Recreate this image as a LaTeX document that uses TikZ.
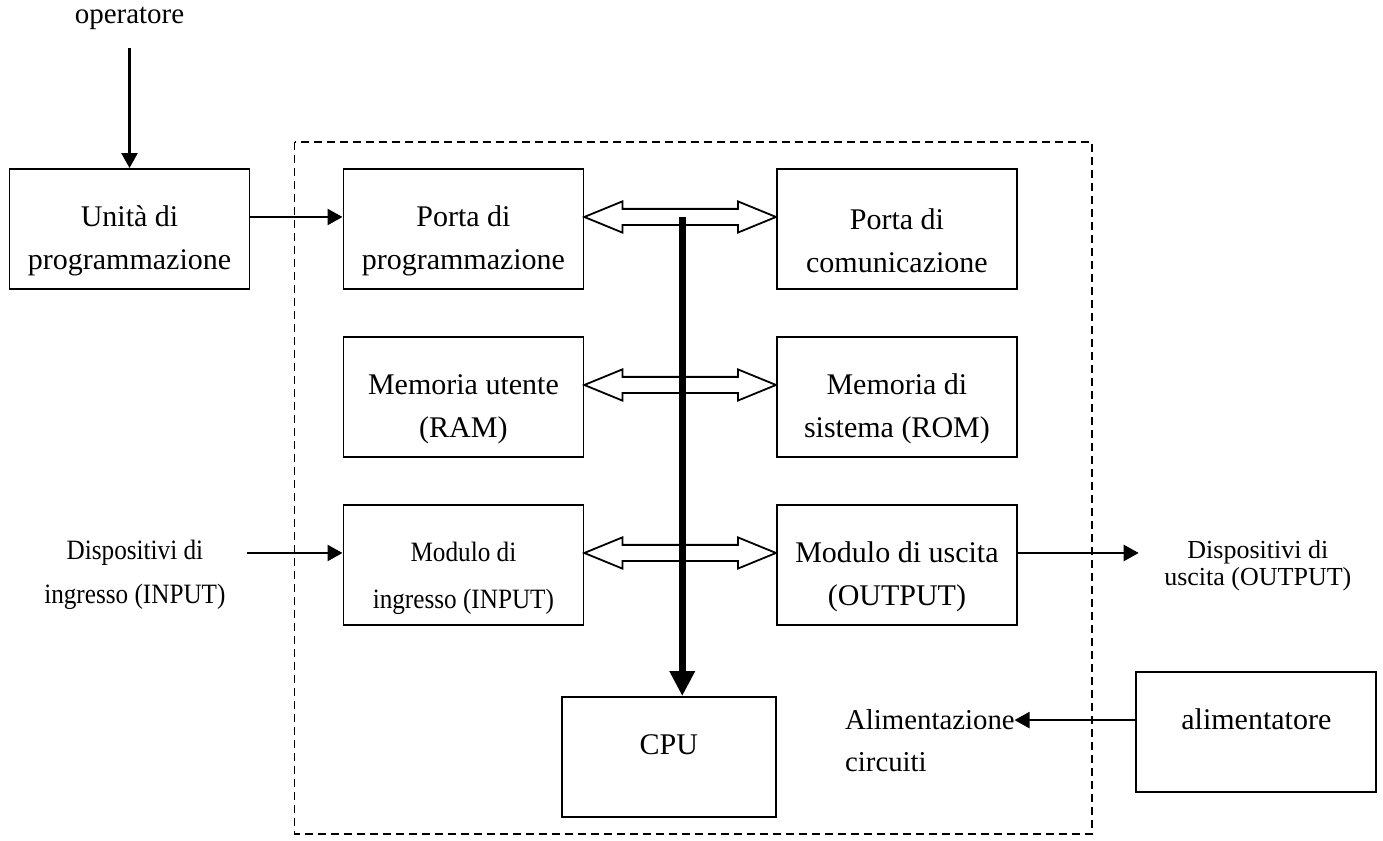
\documentclass[tikz,border=0pt]{standalone}
\usepackage{fontspec}
\setmainfont{Liberation Serif}
\newfontfamily\narrowfont[FakeStretch=0.9]{Liberation Serif}
\usetikzlibrary{calc, arrows.meta, positioning}
\tikzset{
    boxnode/.style = {draw, rectangle, line width=0.9pt, inner sep = 0em, node distance=0em,
      minimum width=8em, minimum height=4em, align=center, text height=2.9em},
    textnode/.style  = {draw=none, fill=none, rectangle, inner sep = 0em, node distance=0em, align=center},
    oneline/.style = {text height=0.7em, text depth=0.84em},
    connect/.style = {black, line width=1.2pt, -{Triangle[length=7.5pt, width=8pt]}},
    busline/.style = {black, line width=3.5pt, -{Triangle[length=12.5pt, width=12pt]}},
    hollowarrow/.style = {draw, fill=white, line width=0.9pt, line join=miter},
    frame/.style = {line width=0.9pt, dash pattern=on 4pt off 2.5pt}
}
\begin{document}
\begin{tikzpicture}[execute at begin picture={\fontsize{15pt}{21.5pt}\selectfont}]
\node[boxnode, name=unita] {Unità di\\programmazione};
\useasboundingbox ($(unita.center)+(-4.317em,7.633em)$) rectangle ($(unita.center)+(41.783em,-20.4em)$);

\node[boxnode, name=pp, right of = unita, xshift=11.13em] {Porta di\\programmazione};
\node[boxnode, name=pc, right of = pp, xshift=14.45em] {Porta di\\comunicazione};
\node[boxnode, name=mu, below of = pp, yshift=-5.6em] {Memoria utente\\(RAM)};
\node[boxnode, name=ms, below of = pc, yshift=-5.6em] {Memoria di\\sistema (ROM)};
\node[boxnode, name=mi, below of = mu, yshift=-5.6em, text height=3.1em,
	font=\narrowfont\fontsize{14pt}{23.5pt}\selectfont] {Modulo di\\ingresso (INPUT)};
\node[boxnode, name=mo, below of = ms, yshift=-5.6em] {Modulo di uscita\\(OUTPUT)};
\node[boxnode, oneline, name=cpu, below of = mi, xshift=6.85em, yshift=-6.4em,
	minimum width=7.13em] {CPU};
\node[boxnode, oneline, name=alim, below of = mo, xshift=11.98em, yshift=-5.57em] {alimentatore};

% testi esterni
\node[textnode, name=op, above of = unita, yshift=7.03em, font=\fontsize{14.5pt}{21.5pt}\selectfont] {operatore};
\node[textnode, name=indev, left of = mi, xshift=-10.95em, yshift=-0.33em,
	font=\narrowfont\fontsize{14pt}{22pt}\selectfont] {Dispositivi di\\ingresso (INPUT)};
\node[textnode, name=outdev, right of = mo, xshift=12.03em, yshift=-0.03em,
	font=\fontsize{13pt}{13.8pt}\selectfont] {Dispositivi di\\uscita (OUTPUT)};
\node[textnode, name=alimtxt, left of = alim, xshift=-10.88em, yshift=-0.3em, align=left,
	font=\fontsize{14.4pt}{21pt}\selectfont] {Alimentazione\\circuiti};

% PLC
\draw[frame] ($(pp.north west)+(-1.6em,0.87em)$) rectangle ($(pc.east |- cpu.south)+(2.47em,-0.53em)$);

\draw[connect] ($(unita.north)+(0em,4em)$) -- (unita.north);
\draw[connect] ($(unita.east)+(0em,0.4em)$) -- ($(pp.west)+(0em,0.4em)$);
\draw[connect] ($(mi.west)+(-3.2em,0.4em)$) -- ($(mi.west)+(0em,0.4em)$);
\draw[connect] ($(mo.east)+(0em,0.4em)$) -- ($(mo.east)+(4.03em,0.4em)$);
\draw[connect] ($(alim.west)+(0em,0.4em)$) -- ($(alim.west)+(-4.03em,0.4em)$);

\foreach \l/\r in {pp/pc, mu/ms, mi/mo}
	\draw[hollowarrow] ($(\l.east)+(0em,0.4em)$) -- ($(\l.east)+(1.27em,0.92em)$)
	  -- ($(\l.east)+(1.27em,0.67em)$) -- ($(\r.west)+(-1.27em,0.67em)$)
	  -- ($(\r.west)+(-1.27em,0.92em)$) -- ($(\r.west)+(0em,0.4em)$)
	  -- ($(\r.west)+(-1.27em,-0.12em)$) -- ($(\r.west)+(-1.27em,0.13em)$)
	  -- ($(\l.east)+(1.27em,0.13em)$) -- ($(\l.east)+(1.27em,-0.12em)$) -- cycle;

% bus verso la CPU
\draw[busline] ($(pp.east)!0.5!(pc.west)+(0.07em,0.4em)$) coordinate (bustop) -- (bustop |- cpu.north);
\end{tikzpicture}
\end{document}
